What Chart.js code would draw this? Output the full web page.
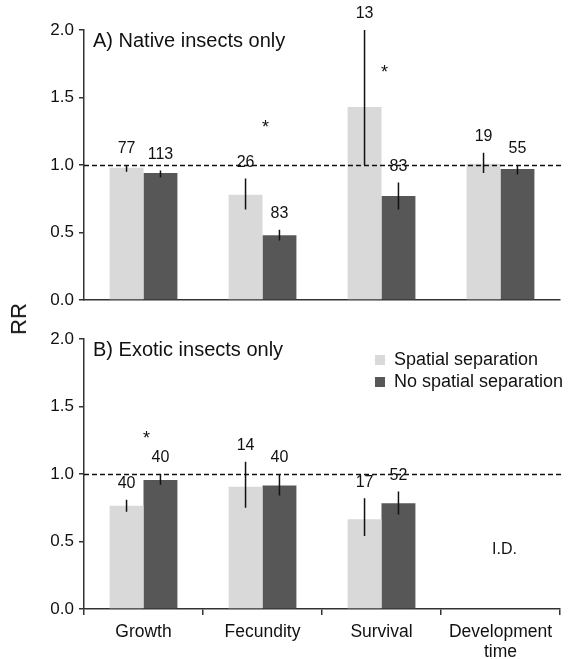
<!DOCTYPE html>
<html>
<head>
<meta charset="utf-8">
<script src="https://cdn.jsdelivr.net/npm/chart.js@4.4.1/dist/chart.umd.min.js"></script>
<style>
  body { margin: 0; background: #fff; width: 572px; height: 659px; position: relative; overflow: hidden;
         font-family: "Liberation Sans", Arial, Helvetica, sans-serif; }
  canvas { position: absolute; left: 0; }
  #panelA { top: 0; }
  #panelB { top: 320px; }
  #rr { position: absolute; left: 19px; top: 319px; transform: translate(-50%, -50%) rotate(-90deg);
        font-size: 22px; color: #111; white-space: nowrap; }
</style>
</head>
<body>
<canvas id="panelA" width="572" height="320"></canvas>
<canvas id="panelB" width="572" height="339"></canvas>
<div id="rr">RR</div>
<script>
const categories = ["Growth", "Fecundity", "Survival", ["Development", "time"]];
const seriesNames = ["Spatial separation", "No spatial separation"];
const yTicks = [0, 0.5, 1, 1.5, 2];

// A) native insects: mean RR, error bar ends, sample sizes
const nativeSpatial = [0.98, 0.78, 1.43, 1.01];
const nativeSpatialLo = [0.95, 0.67, 1.0, 0.94];
const nativeSpatialHi = [1.0, 0.9, 2.0, 1.09];
const nativeSpatialN = [77, 26, 13, 19];
const nativeNone = [0.94, 0.48, 0.77, 0.97];
const nativeNoneLo = [0.91, 0.44, 0.67, 0.93];
const nativeNoneHi = [0.96, 0.52, 0.87, 1.0];
const nativeNoneN = [113, 83, 83, 55];
const nativeStars = [null, 1.3, 1.71, null];

// B) exotic insects
const exoticSpatial = [0.765, 0.906, 0.664, null];
const exoticSpatialLo = [0.72, 0.75, 0.54, null];
const exoticSpatialHi = [0.81, 1.09, 0.82, null];
const exoticSpatialN = [40, 14, 17, null];
const exoticNone = [0.956, 0.914, 0.783, null];
const exoticNoneLo = [0.92, 0.84, 0.70, null];
const exoticNoneHi = [1.0, 1.0, 0.87, null];
const exoticNoneN = [40, 40, 52, null];
const exoticStars = [1.29, null, null, null];
const exoticNotes = [null, null, null, "I.D."];

const font = "'Liberation Sans', Arial, Helvetica, sans-serif";
const lightGrey = "#d9d9d9";
const darkGrey = "#575757";
const axisColor = "#333";
const ink = "#111";

Chart.defaults.font.family = font;
Chart.defaults.color = ink;

// error bars, n labels, stars, dashed 1.0 line, panel title, legend
function extras(panel) {
    return {
        id: "extras",
        afterDatasetsDraw(chart) {
            const {ctx, chartArea: area, scales: {x, y}} = chart;
            ctx.save();
            ctx.beginPath();
            ctx.rect(area.left, area.top - 1, area.width, area.height + 2);
            ctx.clip();
            ctx.strokeStyle = ink;
            ctx.lineWidth = 1.5;
            ctx.beginPath();
            panel.errors.forEach(([lo, hi], di) => {
                chart.getDatasetMeta(di).data.forEach((bar, i) => {
                    if (lo[i] == null) return;
                    ctx.moveTo(bar.x, y.getPixelForValue(lo[i]));
                    ctx.lineTo(bar.x, y.getPixelForValue(hi[i]));
                });
            });
            ctx.stroke();
            ctx.restore();

            // reference line at RR = 1
            ctx.save();
            ctx.strokeStyle = ink;
            ctx.lineWidth = 1.5;
            ctx.setLineDash([5, 3]);
            ctx.beginPath();
            const y1 = Math.round(y.getPixelForValue(1)) + 0.5;
            ctx.moveTo(area.left, y1);
            ctx.lineTo(area.right + 2, y1);
            ctx.stroke();
            ctx.restore();
        },
        afterDraw(chart) {
            const {ctx, chartArea: area, scales: {x, y}} = chart;
            ctx.save();
            ctx.fillStyle = ink;
            ctx.textAlign = "center";
            ctx.textBaseline = "middle";
            ctx.font = "16px " + font;
            panel.counts.forEach((n, di) => {
                const hi = panel.errors[di][1];
                chart.getDatasetMeta(di).data.forEach((bar, i) => {
                    if (n[i] == null) return;
                    ctx.fillText(String(n[i]), bar.x, y.getPixelForValue(hi[i]) - 16);
                });
            });

            ctx.font = "18px " + font;
            panel.stars.forEach((s, i) => {
                if (s == null) return;
                ctx.fillText("*", x.getPixelForValue(i) + 3, y.getPixelForValue(s) + 4);
            });

            ctx.font = "16px " + font;
            (panel.notes || []).forEach((t, i) => {
                if (!t) return;
                ctx.fillText(t, x.getPixelForValue(i) + 4, y.getPixelForValue(0.44));
            });

            ctx.textAlign = "left";
            ctx.font = "20px " + font;
            ctx.fillText(panel.title, area.left + 9, area.top + 11);

            if (panel.legend) {
                ctx.font = "18px " + font;
                [lightGrey, darkGrey].forEach((c, i) => {
                    const cy = area.top + 21 + i * 22;
                    ctx.fillStyle = c;
                    ctx.fillRect(375, cy - 5, 10, 10);
                    ctx.fillStyle = ink;
                    ctx.fillText(seriesNames[i], 394, cy);
                });
            }
            ctx.restore();
        }
    };
}

function makeChart(id, panel) {
    const canvas = document.getElementById(id);
    return new Chart(canvas, {
        type: "bar",
        data: {
            labels: categories,
            datasets: [
                {label: seriesNames[0], data: panel.values[0], backgroundColor: lightGrey},
                {label: seriesNames[1], data: panel.values[1], backgroundColor: darkGrey}
            ]
        },
        options: {
            responsive: false,
            animation: false,
            events: [],
            categoryPercentage: 0.57,
            barPercentage: 1,
            layout: {padding: {top: panel.top, right: 12, left: 0, bottom: 0}},
            plugins: {
                legend: {display: false},
                tooltip: {enabled: false}
            },
            scales: {
                x: {
                    afterFit: s => { s.height = canvas.height - panel.top - 270; },
                    border: {display: true, color: axisColor, width: 1.5},
                    grid: {
                        display: panel.showX,
                        drawOnChartArea: false,
                        offset: true,
                        tickLength: 6,
                        color: axisColor,
                        lineWidth: 1.5
                    },
                    ticks: {
                        display: panel.showX,
                        color: ink,
                        padding: 7,
                        maxRotation: 0,
                        font: {size: 17.5, lineHeight: 1.15}
                    }
                },
                y: {
                    min: yTicks[0],
                    max: yTicks[yTicks.length - 1],
                    afterFit: s => { s.width = 84; },
                    afterBuildTicks: s => { s.ticks = yTicks.map(v => ({value: v})); },
                    border: {display: true, color: axisColor, width: 1.5},
                    grid: {
                        drawOnChartArea: false,
                        tickLength: 5,
                        color: axisColor,
                        lineWidth: 1.5
                    },
                    ticks: {
                        color: ink,
                        padding: 5,
                        font: {size: 17},
                        callback: v => v.toFixed(1)
                    }
                }
            }
        },
        plugins: [extras(panel)]
    });
}

makeChart("panelA", {
    title: "A) Native insects only",
    top: 30,
    showX: false,
    values: [nativeSpatial, nativeNone],
    errors: [[nativeSpatialLo, nativeSpatialHi], [nativeNoneLo, nativeNoneHi]],
    counts: [nativeSpatialN, nativeNoneN],
    stars: nativeStars
});

makeChart("panelB", {
    title: "B) Exotic insects only",
    top: 19,
    showX: true,
    legend: true,
    values: [exoticSpatial, exoticNone],
    errors: [[exoticSpatialLo, exoticSpatialHi], [exoticNoneLo, exoticNoneHi]],
    counts: [exoticSpatialN, exoticNoneN],
    stars: exoticStars,
    notes: exoticNotes
});
</script>
</body>
</html>
